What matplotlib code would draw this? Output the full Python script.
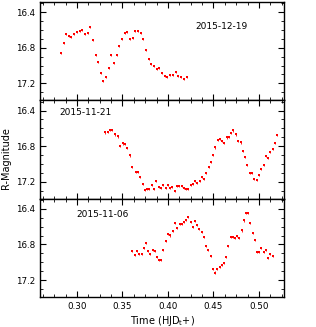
import matplotlib
matplotlib.use("Agg")
import matplotlib.pyplot as plt
from matplotlib.ticker import MultipleLocator

# 2015-12-19
t_1219 = [0.2824, 0.2853, 0.2879, 0.2912, 0.2938, 0.2971, 0.3000, 0.3029, 0.3055, 0.3084,
          0.3118, 0.3147, 0.3176, 0.3206, 0.3231, 0.3261, 0.3290, 0.3319, 0.3349, 0.3378,
          0.3411, 0.3437, 0.3466, 0.3496, 0.3525, 0.3554, 0.3584, 0.3613, 0.3642, 0.3672,
          0.3701, 0.3730, 0.3760, 0.3789, 0.3819, 0.3848, 0.3877, 0.3907, 0.3936, 0.3966,
          0.3995, 0.4024, 0.4054, 0.4083, 0.4112, 0.4142, 0.4171, 0.4204]
m_1219 = [16.855, 16.746, 16.648, 16.667, 16.682, 16.648, 16.626, 16.607, 16.603, 16.648,
          16.637, 16.562, 16.712, 16.885, 16.960, 17.080, 17.170, 17.129, 17.024, 16.877,
          16.968, 16.877, 16.780, 16.705, 16.637, 16.626, 16.705, 16.686, 16.607, 16.607,
          16.630, 16.705, 16.821, 16.930, 16.986, 17.009, 17.039, 17.031, 17.084, 17.121,
          17.133, 17.103, 17.106, 17.073, 17.118, 17.133, 17.152, 17.133]

# 2015-11-21
t_1121 = [0.3312, 0.3338, 0.3363, 0.3389, 0.3422, 0.3448, 0.3477, 0.3503, 0.3529, 0.3554,
          0.3584, 0.3609, 0.3653, 0.3675, 0.3697, 0.3723, 0.3749, 0.3775, 0.3797, 0.3822,
          0.3848, 0.3874, 0.3899, 0.3925, 0.3951, 0.3977, 0.3999, 0.4024, 0.4046, 0.4072,
          0.4098, 0.4123, 0.4149, 0.4175, 0.4200, 0.4222, 0.4248, 0.4274, 0.4296, 0.4322,
          0.4347, 0.4373, 0.4395, 0.4421, 0.4446, 0.4472, 0.4498, 0.4520, 0.4545, 0.4571,
          0.4597, 0.4619, 0.4645, 0.4670, 0.4696, 0.4718, 0.4747, 0.4773, 0.4799, 0.4825,
          0.4847, 0.4872, 0.4898, 0.4924, 0.4949, 0.4975, 0.5001, 0.5026, 0.5052, 0.5074,
          0.5100, 0.5126, 0.5151, 0.5173, 0.5199]
m_1121 = [16.647, 16.639, 16.621, 16.621, 16.669, 16.692, 16.796, 16.770, 16.778, 16.826,
          16.905, 17.032, 17.088, 17.095, 17.144, 17.230, 17.290, 17.282, 17.282, 17.241,
          17.282, 17.196, 17.256, 17.271, 17.237, 17.275, 17.234, 17.271, 17.256, 17.308,
          17.249, 17.252, 17.245, 17.271, 17.282, 17.282, 17.241, 17.226, 17.196, 17.215,
          17.189, 17.151, 17.166, 17.099, 17.032, 16.976, 16.901, 16.815, 16.736, 16.718,
          16.744, 16.763, 16.703, 16.695, 16.654, 16.624, 16.669, 16.740, 16.759, 16.852,
          16.927, 17.013, 17.103, 17.103, 17.170, 17.185, 17.121, 17.058, 17.017, 16.916,
          16.935, 16.864, 16.834, 16.766, 16.677]

# 2015-11-06
t_1106 = [0.3606, 0.3635, 0.3661, 0.3686, 0.3712, 0.3734, 0.3756, 0.3782, 0.3808, 0.3833,
          0.3855, 0.3881, 0.3903, 0.3929, 0.3951, 0.3977, 0.4002, 0.4028, 0.4050, 0.4076,
          0.4101, 0.4127, 0.4153, 0.4178, 0.4200, 0.4222, 0.4248, 0.4270, 0.4292, 0.4318,
          0.4344, 0.4369, 0.4391, 0.4417, 0.4443, 0.4468, 0.4494, 0.4516, 0.4542, 0.4568,
          0.4593, 0.4615, 0.4641, 0.4663, 0.4689, 0.4714, 0.4736, 0.4762, 0.4784, 0.4810,
          0.4836, 0.4858, 0.4880, 0.4905, 0.4931, 0.4953, 0.4979, 0.5004, 0.5026, 0.5052,
          0.5078, 0.5100, 0.5126, 0.5151]
m_1106 = [16.878, 16.915, 16.870, 16.907, 16.904, 16.840, 16.784, 16.870, 16.907, 16.859,
          16.878, 16.945, 16.975, 16.971, 16.866, 16.766, 16.687, 16.699, 16.646, 16.564,
          16.616, 16.568, 16.568, 16.549, 16.527, 16.490, 16.546, 16.605, 16.538, 16.579,
          16.628, 16.665, 16.717, 16.818, 16.859, 16.930, 17.072, 17.116, 17.075, 17.057,
          17.027, 17.004, 16.945, 16.818, 16.713, 16.721, 16.732, 16.710, 16.732, 16.643,
          16.531, 16.445, 16.445, 16.564, 16.669, 16.754, 16.881, 16.889, 16.840, 16.889,
          16.863, 16.949, 16.904, 16.926]

nights = ["2015-12-19", "2015-11-21", "2015-11-06"]
label_pos = [(0.635, 0.755), (0.078, 0.88), (0.150, 0.837)]

fig, axes = plt.subplots(3, 1, figsize=(3.16, 3.27), dpi=100, sharex=True)
fig.subplots_adjust(left=0.127, right=0.9, top=0.994, bottom=0.092, hspace=0)

for ax, t, m, name, pos in zip(axes, [t_1219, t_1121, t_1106],
                               [m_1219, m_1121, m_1106], nights, label_pos):
    ax.errorbar(t, m, yerr=0.012, fmt='s', ms=1.9, mew=0, color='red',
                elinewidth=0.6, capsize=0)
    ax.set_xlim(0.2595, 0.528)
    ax.set_ylim(17.39, 16.285)
    ax.yaxis.set_major_locator(MultipleLocator(0.4))
    ax.yaxis.set_minor_locator(MultipleLocator(0.1))
    ax.xaxis.set_major_locator(MultipleLocator(0.05))
    ax.xaxis.set_minor_locator(MultipleLocator(0.0125))
    ax.tick_params(which='both', direction='in', top=True, right=True, labelsize=6.3)
    ax.tick_params(which='major', length=4, width=0.8)
    ax.tick_params(which='minor', length=2, width=0.6)
    for sp in ax.spines.values():
        sp.set_linewidth(1.0)
    ax.text(pos[0], pos[1], name, transform=ax.transAxes, fontsize=6.5,
            ha='left', va='center')

axes[-1].set_xlabel(r'Time (HJD$_{\rm t}$+)', fontsize=7, labelpad=2)
fig.text(0.02, 0.517, 'R-Magnitude', rotation=90, fontsize=7, ha='center', va='center')

fig.savefig("out.png", dpi=100)
